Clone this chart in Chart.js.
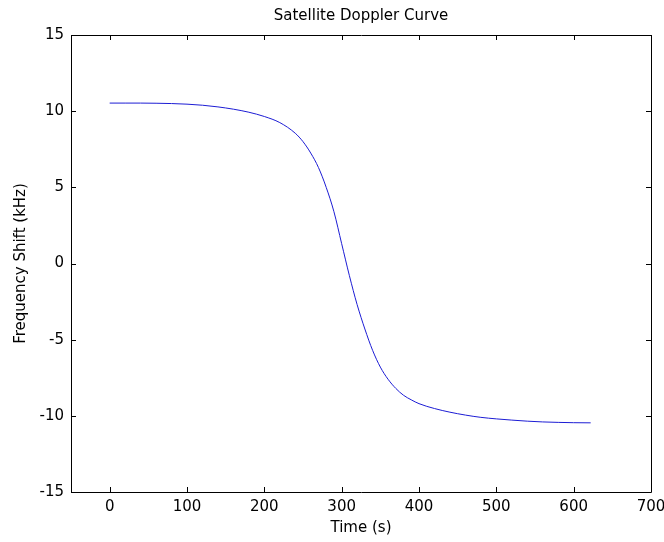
<!DOCTYPE html>
<html>
<head>
<meta charset="utf-8">
<script src="https://cdn.jsdelivr.net/npm/chart.js@4/dist/chart.umd.min.js"></script>
<style>
  body { margin: 0; background: #fff; }
  #wrap { width: 664px; height: 542px; }
</style>
</head>
<body>
<div id="wrap"><canvas id="dopplerChart" width="664" height="542"></canvas></div>
<script>
// Time (s) and frequency shift (kHz)
const timeSec = [0, 20, 40, 60, 80, 100, 120, 140, 160, 180, 200, 220, 240, 250, 260, 270, 280, 290, 300,
    310, 320, 330, 340, 350, 360, 370, 380, 390, 400, 420, 440, 460, 480, 500, 520, 540, 560, 580, 600, 622];
const shiftKHz = [10.53, 10.53, 10.53, 10.52, 10.50, 10.46, 10.39, 10.28, 10.13, 9.93, 9.65, 9.25, 8.55, 8.0, 7.25, 6.3, 5.0, 3.4, 1.3,
    -0.8, -2.7, -4.3, -5.7, -6.8, -7.6, -8.2, -8.65, -8.95, -9.2, -9.52, -9.76, -9.95, -10.1, -10.2, -10.28, -10.35, -10.4, -10.43, -10.45, -10.46];

const xTicks = [0, 100, 200, 300, 400, 500, 600, 700];
const yTicks = [-15, -10, -5, 0, 5, 10, 15];

const font = { family: 'DejaVu Sans, sans-serif', size: 15 };

// MATLAB style box with inward ticks on all four sides
const boxPlugin = {
    id: 'matlabBox',
    afterDraw(chart) {
        const { ctx, chartArea: a, scales } = chart;
        ctx.save();
        ctx.strokeStyle = '#000';
        ctx.lineWidth = 1;
        ctx.beginPath();
        ctx.rect(Math.round(a.left) + 0.5, Math.round(a.top) + 0.5,
                 Math.round(a.right - a.left), Math.round(a.bottom - a.top));
        const len = 5;
        xTicks.forEach(v => {
            const x = Math.round(scales.x.getPixelForValue(v)) + 0.5;
            ctx.moveTo(x, a.bottom); ctx.lineTo(x, a.bottom - len);
            ctx.moveTo(x, a.top); ctx.lineTo(x, a.top + len);
        });
        yTicks.forEach(v => {
            const y = Math.round(scales.y.getPixelForValue(v)) + 0.5;
            ctx.moveTo(a.left, y); ctx.lineTo(a.left + len, y);
            ctx.moveTo(a.right, y); ctx.lineTo(a.right - len, y);
        });
        ctx.stroke();
        ctx.restore();
    }
};

new Chart(document.getElementById('dopplerChart'), {
    type: 'line',
    data: {
        datasets: [{
            data: timeSec.map((t, i) => ({ x: t, y: shiftKHz[i] })),
            borderColor: '#1c1cd4',
            borderWidth: 1,
            pointRadius: 0,
            cubicInterpolationMode: 'monotone',
            fill: false
        }]
    },
    options: {
        responsive: false,
        animation: false,
        layout: { padding: { left: 0, right: 13, top: 0, bottom: 0 } },
        plugins: {
            legend: { display: false },
            tooltip: { enabled: false },
            title: { display: false }
        },
        scales: {
            x: {
                type: 'linear',
                min: -50,
                max: 700,
                afterBuildTicks: s => { s.ticks = xTicks.map(v => ({ value: v })); },
                afterFit: s => { s.height = 50; s.paddingLeft = 0; s.paddingRight = 0; },
                grid: { display: false, drawTicks: false },
                border: { display: false },
                ticks: { color: '#000', font, padding: 6, maxRotation: 0 },
                title: { display: true, text: 'Time (s)', color: '#000', font, padding: { top: 0, bottom: 5 } }
            },
            // top axis only carries the title, so it centres over the plot box
            top: {
                type: 'linear',
                position: 'top',
                display: true,
                min: -50,
                max: 700,
                afterFit: s => { s.height = 35; s.paddingLeft = 0; s.paddingRight = 0; },
                grid: { display: false, drawTicks: false },
                border: { display: false },
                ticks: { display: false },
                title: { display: true, text: 'Satellite Doppler Curve', color: '#000', font, padding: { top: 7, bottom: 0 } }
            },
            y: {
                type: 'linear',
                min: -15,
                max: 15,
                afterBuildTicks: s => { s.ticks = yTicks.map(v => ({ value: v })); },
                afterFit: s => { s.width = 71; s.paddingTop = 0; s.paddingBottom = 0; },
                grid: { display: false, drawTicks: false },
                border: { display: false },
                ticks: { color: '#000', font, padding: 7 },
                title: { display: true, text: 'Frequency Shift (kHz)', color: '#000', font, padding: { top: 12, bottom: 0 } }
            }
        }
    },
    plugins: [boxPlugin]
});
</script>
</body>
</html>
